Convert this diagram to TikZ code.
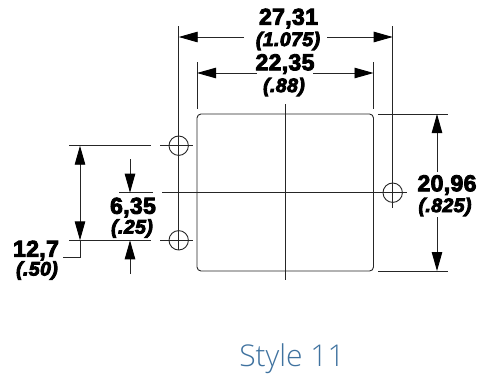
\documentclass[tikz,border=0pt]{standalone}
\usepackage{fontspec}
\usetikzlibrary{arrows.meta}
\newfontfamily\dimup[FakeBold=4,LetterSpace=1.5]{Liberation Sans Bold}
\newfontfamily\dimit[FakeBold=4.5,LetterSpace=2]{Liberation Sans Bold Italic}
\newfontfamily\capfont{Open Sans Light}
\definecolor{capblue}{HTML}{3F729F}
\tikzset{
  x=1pt,y=-1pt,
  thinline/.style={line width=0.9pt,black!85},
  dimarrow/.style={line width=0.9pt,black!85,-{Triangle[length=19pt,width=10.5pt,black]}},
  dimtop/.style={font=\dimup\fontsize{23}{23}\selectfont,inner sep=0pt,text=black},
  dimsub/.style={font=\dimit\fontsize{19.5}{19.5}\selectfont,inner sep=0pt,text=black},
  hole/.style={draw,circle,line width=0.9pt,black!85,minimum size=19.4pt,inner sep=0pt},
}
\begin{document}
\begin{tikzpicture}
\useasboundingbox (0,0) rectangle (479,378);
% body
\draw[thinline,rounded corners=4pt] (197,114) rectangle (373.5,271);
\draw[thinline] (285.7,104) -- (285.7,280);
% holes
\node[hole] (h1) at (178.7,145.7) {};
\node[hole] (h2) at (178.7,240.3) {};
\node[hole] (h3) at (392.7,192.7) {};
% extension lines
\coordinate (LT) at (178.7,26);
\coordinate (LB) at (178.7,250);
\coordinate (RT) at (392.7,26);
\coordinate (RB) at (392.7,208);
\draw[thinline] (LT) -- (LB);
\draw[thinline] (RT) -- (RB);
\draw[thinline] (197,62) -- (197,109);
\draw[thinline] (373.5,62) -- (373.5,109);
\draw[thinline] (378,114) -- (448,114);
\draw[thinline] (378,271) -- (448,271);
\draw[thinline] (119,192.7) -- (153,192.7);
\draw[thinline] (162,192.7) -- (407,192.7);
\draw[thinline] (69,145.7) -- (150.7,145.7);
\draw[thinline] (160,145.7) -- (193,145.7);
\draw[thinline] (69,240.3) -- (150.7,240.3);
\draw[thinline] (160,240.3) -- (193,240.3);
% 27,31
\node[dimtop] (a1) at (288.5,18.5) {27,31};
\node[dimsub] (a2) at (288,41) {(1.075)};
\draw[dimarrow] (244,37) -- (178.7,37);
\draw[dimarrow] (327,37) -- (392.7,37);
% 22,35
\node[dimtop] (b1) at (285,64) {22,35};
\node[dimsub] (b2) at (284,87) {(.88)};
\draw[dimarrow] (257,73) -- (197,73);
\draw[dimarrow] (313,73) -- (373.5,73);
% 20,96
\node[dimtop] (c1) at (447,185) {20,96};
\node[dimsub] (c2) at (445,207) {(.825)};
\draw[dimarrow] (437,172) -- (437,114);
\draw[dimarrow] (437,217) -- (437,271);
% 12,7
\draw[dimarrow] (80,192) -- (80,145.7);
\draw[dimarrow] (80,192) -- (80,240.3);
\draw[thinline] (80,240.3) -- (80,257) -- (63,257);
\node[dimtop] (d1) at (36,250.5) {12,7};
\node[dimsub] (d2) at (37,270.5) {(.50)};
% 6,35
\draw[dimarrow] (130,159) -- (130,192.7);
\draw[dimarrow] (130,274) -- (130,240.3);
\node[dimtop] (e1) at (133,207.5) {6,35};
\node[dimsub] (e2) at (132,228.5) {(.25)};
% caption
\node[font=\capfont\fontsize{30}{30}\selectfont,text=capblue,inner sep=0pt] (cap) at (292,358.5) {Style 11};
\end{tikzpicture}
\end{document}
